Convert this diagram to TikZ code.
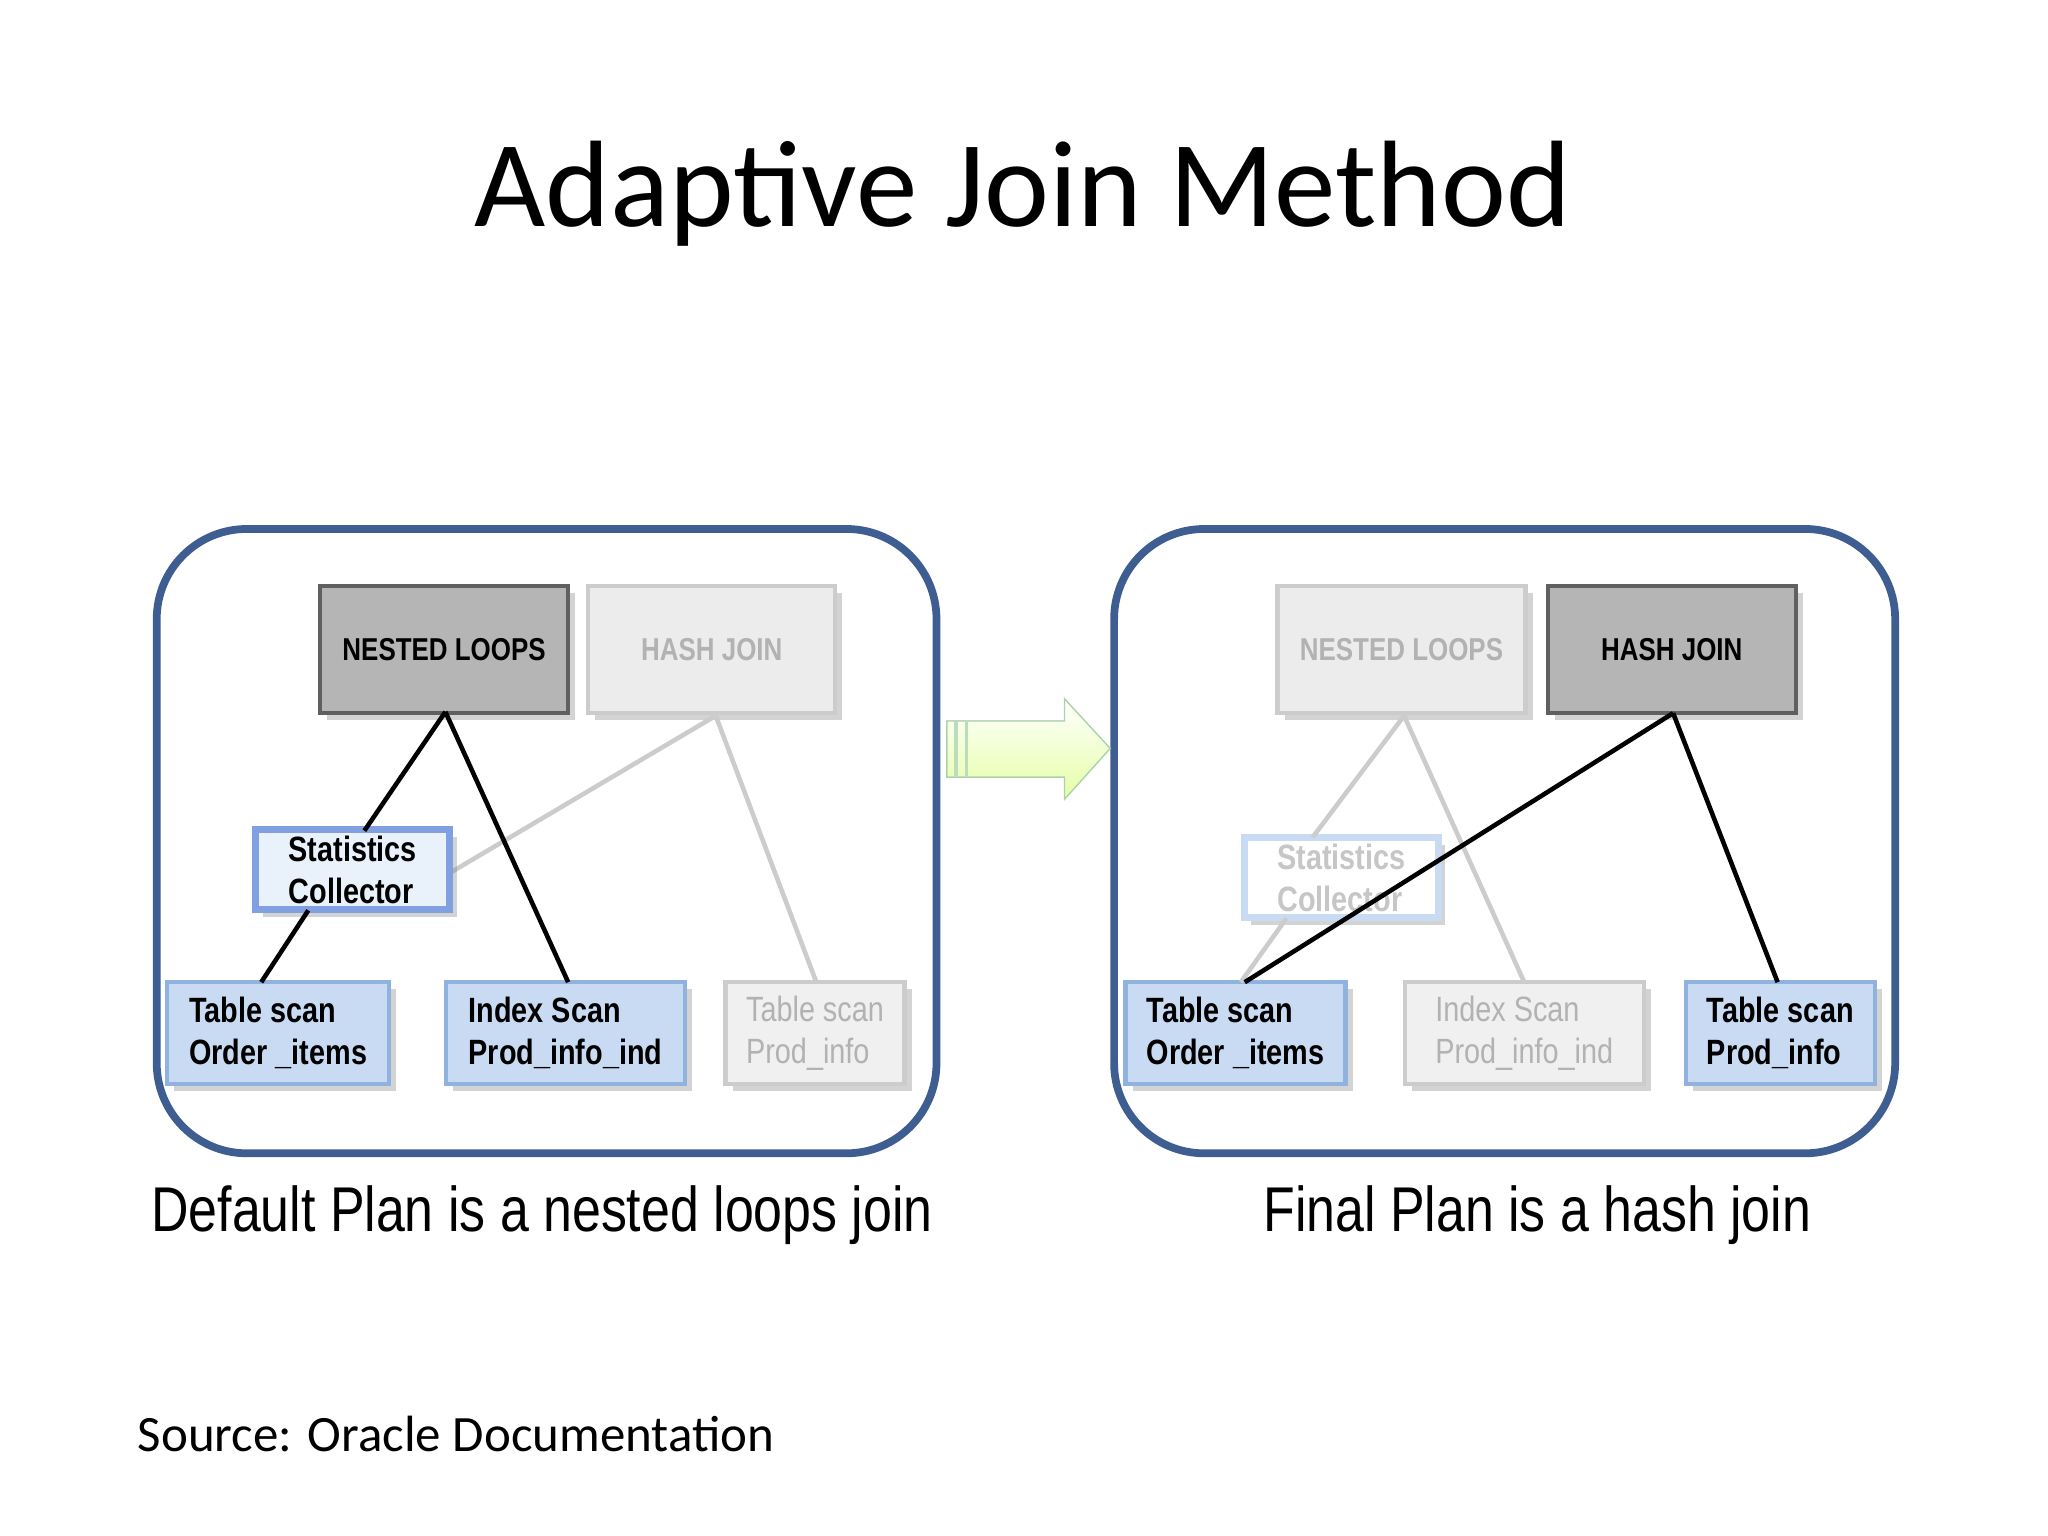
\documentclass[tikz,border=0pt]{standalone}
\usepackage{fontspec}
\setmainfont{Carlito}
\newfontfamily\narrow{Liberation Sans}[FakeStretch=0.82]
\usetikzlibrary{shadows}
\definecolor{panel}{HTML}{3E5E92}
\definecolor{blu}{HTML}{C9DBF2}
\definecolor{blub}{HTML}{8FB2DE}
\begin{document}
\begin{tikzpicture}[x=0.013061cm,y=-0.013061cm,
 pan/.style={draw=panel,line width=2.2pt,rounded corners=0.9cm},
 box/.style={draw,line width=1.2pt,drop shadow={shadow xshift=2pt,shadow yshift=-2pt,opacity=0.35},font=\narrow\bfseries,align=left,inner sep=0pt},
 dark/.style={box,fill=gray!58,draw=gray!75!black,font=\narrow\bfseries\small},
 light/.style={box,fill=gray!15,draw=gray!40,text=gray!60,font=\narrow\bfseries\small},
 bl/.style={box,fill=blu,draw=blub,font=\narrow\bfseries\normalsize},
 gr/.style={box,fill=gray!12,draw=gray!40,text=gray!60,font=\narrow\normalsize},
 st/.style={box,fill=blu!40,draw=blub!90!blue,line width=2pt,font=\narrow\bfseries\normalsize},
 stf/.style={box,fill=white,draw=blu,line width=2pt,text=gray!45,font=\narrow\bfseries\normalsize,drop shadow={opacity=0}},
 ln/.style={line width=1.3pt},
 fl/.style={line width=1.3pt,gray!40}]
\useasboundingbox (0,0) rectangle (1568,1176);
\node[font=\fontsize{35}{42}\selectfont] (title) at (783,148) {Adaptive Join Method};
\draw[pan] (120,405) rectangle (717,883);
\draw[pan] (853,405) rectangle (1451,883);
% left
\node[dark,minimum width=2.48cm,minimum height=1.27cm] (nl1) at (340,497) {NESTED LOOPS};
\node[light,minimum width=2.47cm,minimum height=1.27cm] (hj1) at (545,497) {HASH JOIN};
\node[bl,minimum width=2.22cm,minimum height=1.02cm] (t1) at (213,791) {Table scan\\Order \_items};
\node[bl,minimum width=2.39cm,minimum height=1.02cm] (i1) at (433,791) {Index Scan\\Prod\_info\_ind};
\node[gr,minimum width=1.79cm,minimum height=1.02cm] (p1) at (624,791) {Table scan\\Prod\_info};
\draw[fl] (548,548) -- (345,668);
\draw[fl] (548,548) -- (625,752);
\node[st,minimum width=1.94cm,minimum height=0.8cm] (s1) at (270,666) {Statistics\\Collector};
\draw[ln] (341,545) -- (279,636);
\draw[ln] (236,697) -- (200,752);
\draw[ln] (341,545) -- (435,752);
% arrow
\coordinate (a0) at (725,572);
\filldraw[draw=green!30!gray!50,top color=white,bottom color=green!30!yellow!35,shading angle=0]
 (725,552) -- (815,552) -- (815,535) -- (850,573) -- (815,612) -- (815,595) -- (725,595) -- cycle;
\draw[green!30!gray!40,line width=1pt] (732,552) -- (732,595) (740,552) -- (740,595);
% right
\node[light,minimum width=2.48cm,minimum height=1.27cm] (nl2) at (1073,497) {NESTED LOOPS};
\node[dark,minimum width=2.48cm,minimum height=1.27cm] (hj2) at (1280,497) {HASH JOIN};
\node[bl,minimum width=2.2cm,minimum height=1.02cm] (t2) at (946,791) {Table scan\\Order \_items};
\node[gr,minimum width=2.39cm,minimum height=1.02cm] (i2) at (1167,791) {Index Scan\\Prod\_info\_ind};
\node[bl,minimum width=1.89cm,minimum height=1.02cm] (p2) at (1363,791) {Table scan\\Prod\_info};
\node[stf,minimum width=1.94cm,minimum height=0.8cm] (s2) at (1027,672) {Statistics\\Collector};
\draw[fl] (1075,548) -- (1005,641);
\draw[fl] (985,703) -- (950,752);
\draw[fl] (1075,548) -- (1167,752);
\draw[ln] (1281,546) -- (953,752);
\draw[ln] (1281,546) -- (1361,752);
% captions
\node[font=\narrow\fontsize{18}{22}\selectfont] (c1) at (415,930) {Default Plan is a nested loops join};
\node[font=\narrow\fontsize{18}{22}\selectfont] (c2) at (1177,930) {Final Plan is a hash join};
\node[anchor=west,font=\fontsize{14.5}{18}\selectfont,inner sep=0pt] (src) at (105,1098) {Source: Oracle Documentation};
\end{tikzpicture}
\end{document}
